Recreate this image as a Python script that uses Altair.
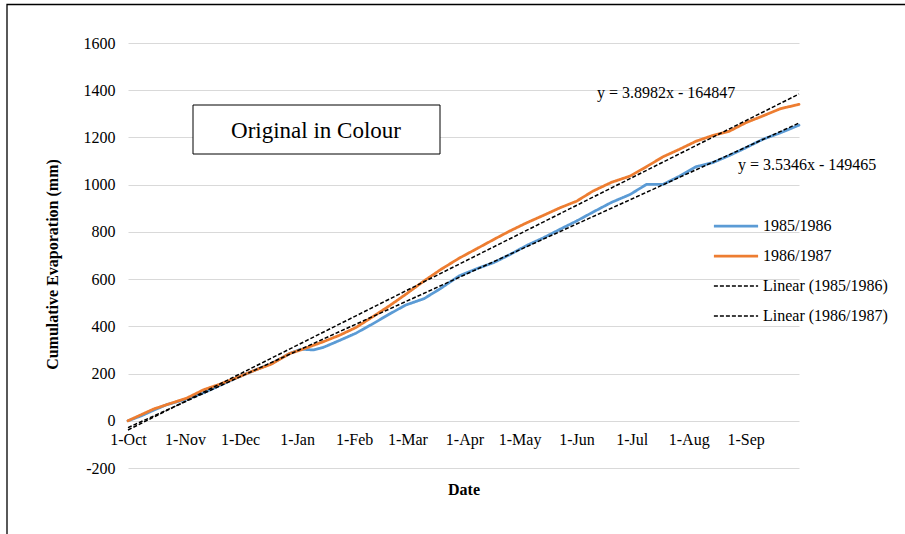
import altair as alt
import pandas as pd

# Sampled dates on a common October–September axis (stored as Excel day numbers)
dates = [
    "2015-10-01", "2015-10-08", "2015-10-15", "2015-10-22", "2015-11-02",
    "2015-11-11", "2015-11-20", "2015-11-30", "2015-12-08", "2015-12-18",
    "2015-12-28", "2016-01-03", "2016-01-10", "2016-01-15", "2016-01-24",
    "2016-02-02", "2016-02-11", "2016-02-20", "2016-02-29", "2016-03-10",
    "2016-03-19", "2016-03-29", "2016-04-08", "2016-04-17", "2016-04-26",
    "2016-05-05", "2016-05-14", "2016-05-23", "2016-06-01", "2016-06-10",
    "2016-06-20", "2016-06-30", "2016-07-09", "2016-07-18", "2016-07-27",
    "2016-08-05", "2016-08-14", "2016-08-23", "2016-09-01", "2016-09-10",
    "2016-09-20", "2016-09-30",
]

# Cumulative evaporation (mm)
evap_1985_86 = [
    0, 20, 45, 68, 92, 118, 150, 185, 211, 242,
    285, 303, 300, 310, 340, 371, 410, 451, 490, 517,
    560, 613, 645, 670, 705, 743, 775, 811, 846, 884,
    925, 958, 1001, 1001, 1036, 1076, 1093, 1123, 1156, 1191,
    1220, 1252,
]
evap_1986_87 = [
    0, 25, 50, 68, 96, 131, 155, 185, 211, 240,
    285, 300, 320, 334, 362, 395, 440, 486, 535, 592,
    640, 688, 730, 768, 805, 839, 870, 902, 930, 973,
    1010, 1036, 1076, 1118, 1150, 1184, 1208, 1226, 1262, 1290,
    1322, 1340,
]

series_names = ["1985/1986", "1986/1987", "Linear (1985/1986)", "Linear (1986/1987)"]
series_colors = ["#5B9BD5", "#ED7D31", "#000000", "#000000"]
series_dashes = [[1, 0], [1, 0], [4, 2], [4, 2]]
series_widths = [2.75, 2.75, 1.5, 1.5]

# Linear trendlines fitted on Excel day numbers
trend_slopes = [3.5346, 3.8982]
trend_intercepts = [-149465, -164847]

EXCEL_EPOCH = pd.Timestamp("1899-12-30")


def excel_day(d):
    return (pd.Timestamp(d) - EXCEL_EPOCH).days


day_numbers = [excel_day(d) for d in dates]

obs = pd.DataFrame(
    [{"day": x, "evap": v, "series": series_names[0]} for x, v in zip(day_numbers, evap_1985_86)]
    + [{"day": x, "evap": v, "series": series_names[1]} for x, v in zip(day_numbers, evap_1986_87)]
)

trend_rows = []
for name, m, b in zip(series_names[2:], trend_slopes, trend_intercepts):
    for x in (day_numbers[0], day_numbers[-1]):
        trend_rows.append({"day": x, "evap": m * x + b, "series": name})
trend = pd.DataFrame(trend_rows)

equations = pd.DataFrame(
    {"label": [f"y = {m}x - {abs(b)}" for m, b in zip(trend_slopes, trend_intercepts)]}
)

month_ticks = [excel_day(d) for d in pd.date_range("2015-10-01", "2016-09-01", freq="MS")]

W, H = 671, 425
Y_MIN, Y_MAX = -200, 1600
FONT = "Liberation Serif"

x_enc = alt.X(
    "day:Q",
    scale=alt.Scale(domain=[excel_day("2015-10-01"), excel_day("2016-09-30")], nice=False, zero=False),
    axis=alt.Axis(
        values=month_ticks,
        labelExpr="utcFormat((datum.value - 25569) * 86400000, '%-d-%b')",
        title="Date",
        titleFontWeight="bold",
        titleFontSize=16,
        titleY=69,
        titleBaseline="middle",
        grid=False,
        domain=False,
        ticks=False,
        labelPadding=11,
        labelFontSize=16,
        labelFlush=False,
        labelOverlap=False,
        offset=-H * (0 - Y_MIN) / (Y_MAX - Y_MIN),
    ),
)
y_enc = alt.Y(
    "evap:Q",
    scale=alt.Scale(domain=[Y_MIN, Y_MAX], nice=False),
    axis=alt.Axis(
        values=list(range(Y_MIN, Y_MAX + 1, 200)),
        labelExpr="'' + datum.value",
        title="Cumulative Evaporation (mm)",
        titleFontWeight="bold",
        titleFontSize=16,
        titleAngle=270,
        titleX=-76,
        titleY=221,
        titleAlign="center",
        titleBaseline="middle",
        grid=True,
        gridColor="#d9d9d9",
        gridWidth=1,
        domain=False,
        ticks=False,
        labelPadding=13,
        labelFontSize=16,
    ),
)

legend = alt.Legend(
    title=None,
    orient="none",
    legendX=600,
    legendY=175,
    padding=0,
    symbolType="M-3.4,0H3.4",
    symbolSize=169,
    labelFontSize=16,
    labelFont=FONT,
    labelColor="#000000",
    labelOffset=19,
    rowPadding=14,
)
color_enc = alt.Color(
    "series:N", scale=alt.Scale(domain=series_names, range=series_colors), legend=legend
)
dash_enc = alt.StrokeDash(
    "series:N", scale=alt.Scale(domain=series_names, range=series_dashes), legend=legend
)
width_enc = alt.StrokeWidth(
    "series:N",
    scale=alt.Scale(type="ordinal", domain=series_names, range=series_widths),
    legend=legend,
)

one_row = alt.Data(values=[{"label": "Original in Colour"}])

frame = alt.Chart(one_row).mark_rect(fill="transparent", stroke="#000000", strokeWidth=1.3).encode(
    x=alt.value(7 - 128), y=alt.value(4.5 - 43), x2=alt.value(W + 300), y2=alt.value(H + 300)
)

note_box = alt.Chart(one_row).mark_rect(fill="#ffffff", stroke="#000000", strokeWidth=1).encode(
    x=alt.value(65), x2=alt.value(312), y=alt.value(62), y2=alt.value(111)
)
note_text = alt.Chart(one_row).mark_text(
    font=FONT, fontSize=23, color="#000000", align="center", baseline="middle"
).encode(x=alt.value(188), y=alt.value(88), text="label:N")

lines = alt.Chart(obs).mark_line(strokeJoin="round", strokeCap="round").encode(
    x=x_enc, y=y_enc, color=color_enc, strokeDash=dash_enc, strokeWidth=width_enc,
    detail="series:N",
)
trend_lines = alt.Chart(trend).mark_line().encode(
    x=x_enc, y=y_enc, color=color_enc, strokeDash=dash_enc, strokeWidth=width_enc,
    detail="series:N",
)

eq_orange = alt.Chart(equations).transform_filter(
    alt.datum.label == equations["label"][1]
).mark_text(font=FONT, fontSize=16, color="#000000", align="left", baseline="middle").encode(
    x=alt.value(469), y=alt.value(50), text="label:N"
)
eq_blue = alt.Chart(equations).transform_filter(
    alt.datum.label == equations["label"][0]
).mark_text(font=FONT, fontSize=16, color="#000000", align="left", baseline="middle").encode(
    x=alt.value(610), y=alt.value(122), text="label:N"
)

chart = (
    alt.layer(frame, note_box, note_text, lines, trend_lines, eq_orange, eq_blue)
    .properties(
        width=W,
        height=H,
        autosize=alt.AutoSizeParams(type="none"),
        padding={"left": 128, "top": 43, "right": 106, "bottom": 66},
    )
    .configure(font=FONT)
    .configure_axis(labelColor="#000000", titleColor="#000000", labelFont=FONT, titleFont=FONT)
    .configure_view(strokeWidth=0)
)

chart.save("out.html", embed_options={"renderer": "svg", "actions": False})
